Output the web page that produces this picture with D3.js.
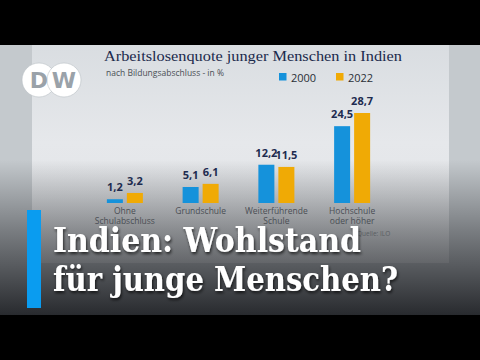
<!DOCTYPE html>
<html><head><meta charset="utf-8">
<script src="https://cdn.jsdelivr.net/npm/d3@7"></script>
<style>html,body{margin:0;padding:0;background:#000;}svg{display:block;}</style>
</head><body>
<script>
const categories = ["Ohne Schulabschluss", "Grundschule", "Weiterführende Schule", "Hochschule oder höher"];
const categoryLines = [["Ohne", "Schulabschluss"], ["Grundschule"], ["Weiterführende", "Schule"], ["Hochschule", "oder höher"]];
const seriesNames = ["2000", "2022"];
const values2000 = [1.2, 5.1, 12.2, 24.5];
const values2022 = [3.2, 6.1, 11.5, 28.7];
const titleText = "Arbeitslosenquote junger Menschen in Indien";
const subtitleText = "nach Bildungsabschluss - in %";
const sourceText = "Quelle: ILO";
const headline = ["Indien: Wohlstand", "für junge Menschen?"];

const W = 480, H = 360;
const svg = d3.select("body").append("svg").attr("width", W).attr("height", H);
const defs = svg.append("defs");

const panelGrad = defs.append("linearGradient").attr("id", "panel").attr("x1", 0).attr("y1", 0).attr("x2", 0).attr("y2", 1);
panelGrad.append("stop").attr("offset", 0).attr("stop-color", "#d9dde1");
panelGrad.append("stop").attr("offset", 0.45).attr("stop-color", "#e6e8eb");
panelGrad.append("stop").attr("offset", 1).attr("stop-color", "#dfe2e5");

const darkGrad = defs.append("linearGradient").attr("id", "dark").attr("x1", 0).attr("y1", 0).attr("x2", 0).attr("y2", 1);
darkGrad.append("stop").attr("offset", 0).attr("stop-color", "#202226").attr("stop-opacity", 0);
darkGrad.append("stop").attr("offset", 0.45).attr("stop-color", "#202226").attr("stop-opacity", 0.45);
darkGrad.append("stop").attr("offset", 1).attr("stop-color", "#202226").attr("stop-opacity", 0.95);

const shadow = defs.append("filter").attr("id", "ts").attr("x", "-10%").attr("y", "-20%").attr("width", "120%").attr("height", "150%");
shadow.append("feDropShadow").attr("dx", 1).attr("dy", 2).attr("stdDeviation", 1.5).attr("flood-color", "#000").attr("flood-opacity", 0.7);

// background
svg.append("rect").attr("x", 0).attr("y", 0).attr("width", W).attr("height", H).attr("fill", "#000");
svg.append("rect").attr("x", 0).attr("y", 45).attr("width", W).attr("height", 270).attr("fill", "#c4c9cd");
svg.append("rect").attr("x", 32).attr("y", 45).attr("width", 417).attr("height", 218).attr("fill", "url(#panel)");
svg.append("rect").attr("x", 0).attr("y", 160).attr("width", W).attr("height", 155).attr("fill", "url(#dark)");

// titles
svg.append("text").attr("x", 104).attr("y", 61).text(titleText)
  .attr("font-family", "Liberation Serif, DejaVu Serif, serif").attr("font-size", 15.5)
  .attr("fill", "#1b2a4c").attr("textLength", 298).attr("lengthAdjust", "spacingAndGlyphs");
svg.append("text").attr("x", 106).attr("y", 76).text(subtitleText)
  .attr("font-family", "Open Sans, sans-serif").attr("font-size", 8.5).attr("fill", "#4a4f55");

// legend
const colors = d3.scaleOrdinal().domain(seriesNames).range(["#1592db", "#f0aa05"]);
const legendX = [279, 336];
seriesNames.forEach((s, i) => {
  svg.append("rect").attr("x", legendX[i]).attr("y", 73).attr("width", 7.5).attr("height", 7.5).attr("fill", colors(s));
  svg.append("text").attr("x", legendX[i] + 12).attr("y", 81.5).text(s)
    .attr("font-family", "Open Sans, sans-serif").attr("font-size", 11).attr("fill", "#2a2f36");
});

// scales
const x0 = d3.scaleBand().domain(categories).range([87, 390]);
const x1 = d3.scaleBand().domain(seriesNames).range([-18, 18]).paddingInner(0.2);
const y = d3.scaleLinear().domain([0, 28.7]).range([203, 113]);
const fmt = d3.formatLocale({decimal: ",", thousands: ".", grouping: [3], currency: ["", "€"]}).format(".1f");

const rows = [];
categories.forEach((c, i) => {
  rows.push({c, s: "2000", v: values2000[i]});
  rows.push({c, s: "2022", v: values2022[i]});
});

const g = svg.append("g");
g.selectAll("rect.bar").data(rows).join("rect").attr("class", "bar")
  .attr("x", d => x0(d.c) + x0.bandwidth() / 2 + x1(d.s))
  .attr("width", x1.bandwidth())
  .attr("y", d => y(d.v))
  .attr("height", d => y(0) - y(d.v))
  .attr("fill", d => colors(d.s));
g.selectAll("text.val").data(rows).join("text").attr("class", "val")
  .attr("x", d => x0(d.c) + x0.bandwidth() / 2 + x1(d.s) + x1.bandwidth() / 2)
  .attr("y", d => y(d.v) - 8)
  .attr("text-anchor", "middle")
  .attr("font-family", "Open Sans, sans-serif").attr("font-weight", 700).attr("font-size", 11)
  .attr("fill", "#1d2b4f").text(d => fmt(d.v));

categories.forEach((c, i) => {
  const t = g.append("text").attr("x", x0(c) + x0.bandwidth() / 2).attr("y", 214)
    .attr("text-anchor", "middle").attr("font-family", "Open Sans, sans-serif").attr("font-size", 8.5).attr("fill", "#4a4e54");
  categoryLines[i].forEach((l, j) => t.append("tspan").attr("x", x0(c) + x0.bandwidth() / 2).attr("dy", j ? 10 : 0).text(l));
});
svg.append("text").attr("x", 357).attr("y", 236).text(sourceText)
  .attr("font-family", "Open Sans, sans-serif").attr("font-size", 6.5).attr("fill", "#5a5e63");

// DW logo
const logo = svg.append("g");
[[39, "D"], [64, "W"]].forEach(([cx, l]) => {
  logo.append("circle").attr("cx", cx).attr("cy", 80).attr("r", 17).attr("fill", "#fff").attr("stroke", "#b9bfc4").attr("stroke-width", 0.6);
});
[[39, "D"], [64, "W"]].forEach(([cx, l]) => {
  logo.append("text").attr("x", cx).attr("y", 88).attr("text-anchor", "middle").text(l)
    .attr("font-family", "DejaVu Sans, sans-serif").attr("font-weight", 700).attr("font-size", 22).attr("fill", "#9aa2a9");
});

// headline
svg.append("rect").attr("x", 27).attr("y", 210).attr("width", 14).attr("height", 98).attr("fill", "#0a9cf0");
const hl = svg.append("g").attr("filter", "url(#ts)");
hl.append("text").attr("x", 53).attr("y", 252).text(headline[0])
  .attr("font-family", "DejaVu Serif, serif").attr("font-weight", 700).attr("font-size", 33)
  .attr("fill", "#fff").attr("textLength", 308).attr("lengthAdjust", "spacingAndGlyphs");
hl.append("text").attr("x", 53).attr("y", 291).text(headline[1])
  .attr("font-family", "DejaVu Serif, serif").attr("font-weight", 700).attr("font-size", 33)
  .attr("fill", "#fff").attr("textLength", 345).attr("lengthAdjust", "spacingAndGlyphs");
</script>
</body></html>
